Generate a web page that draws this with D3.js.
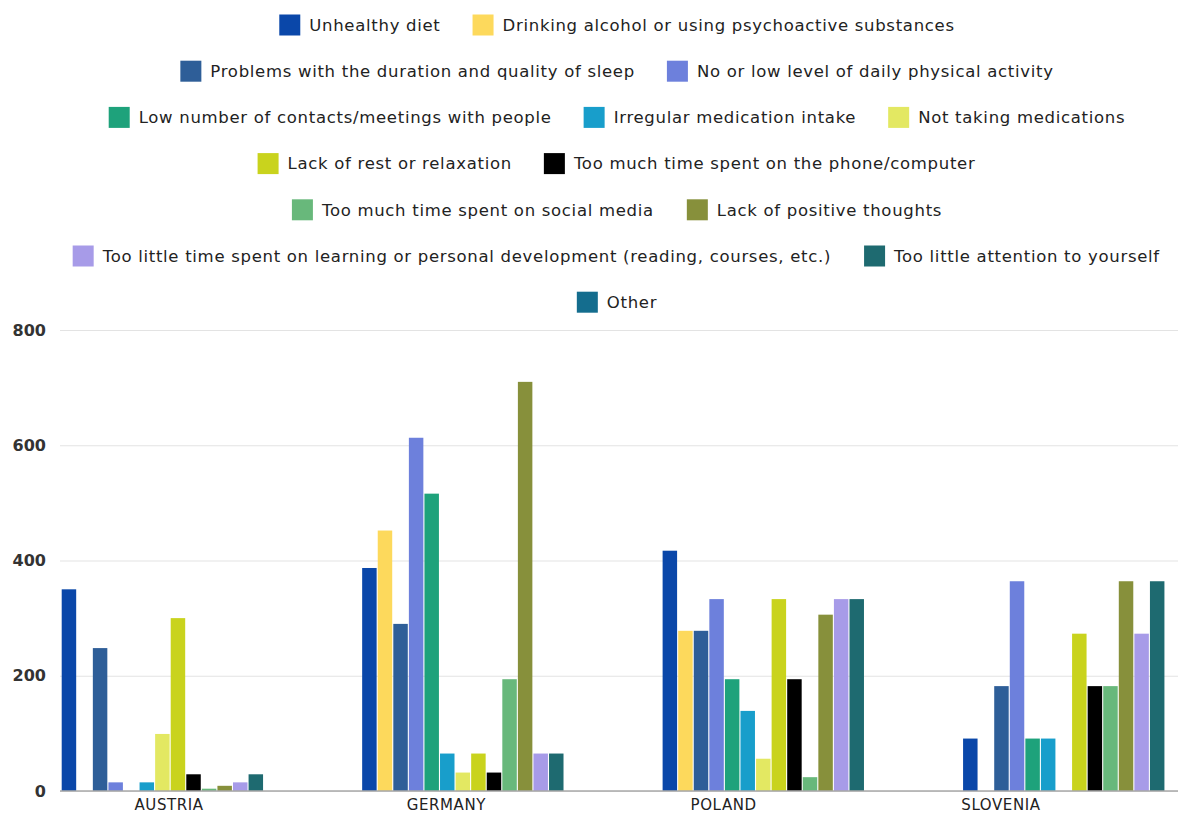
<!DOCTYPE html>
<html>
<head>
<meta charset="utf-8">
<script src="https://cdn.jsdelivr.net/npm/d3@7/dist/d3.min.js"></script>
<style>
  html, body { margin: 0; padding: 0; background: #fff; }
  svg { display: block; font-family: "DejaVu Sans", "Noto Sans", sans-serif; }
</style>
</head>
<body>
<svg id="chart" width="1180" height="814"></svg>
<script>
// Countries on the x axis
const countries = ["AUSTRIA", "GERMANY", "POLAND", "SLOVENIA"];

// Factor names (one series each)
const seriesNames = [
  "Unhealthy diet",
  "Drinking alcohol or using psychoactive substances",
  "Problems with the duration and quality of sleep",
  "No or low level of daily physical activity",
  "Low number of contacts/meetings with people",
  "Irregular medication intake",
  "Not taking medications",
  "Lack of rest or relaxation",
  "Too much time spent on the phone/computer",
  "Too much time spent on social media",
  "Lack of positive thoughts",
  "Too little time spent on learning or personal development (reading, courses, etc.)",
  "Too little attention to yourself",
  "Other"
];

const seriesColors = [
  "#0a47a9", "#fdd95c", "#2e5e98", "#6d80dc", "#1ea27b", "#189ecb", "#e3e862",
  "#c9d31d", "#000000", "#68b87b", "#87903b", "#a79be8", "#1e6a70", "#146d8e"
];

// Values per country, in series order
const austria  = [350, 0, 248, 15, 0, 15, 99, 300, 29, 4, 9, 15, 29, 0];
const germany  = [387, 452, 290, 613, 516, 65, 32, 65, 32, 194, 710, 65, 65, 0];
const poland   = [417, 278, 278, 333, 194, 139, 56, 333, 194, 24, 306, 333, 333, 0];
const slovenia = [91, 0, 182, 364, 91, 91, 0, 273, 182, 182, 364, 273, 364, 0];
const valuesByCountry = [austria, germany, poland, slovenia];

const yTicks = [0, 200, 400, 600, 800];

// Legend rows (indices into seriesNames)
const legendRows = [[0, 1], [2, 3], [4, 5, 6], [7, 8], [9, 10], [11, 12], [13]];

const svg = d3.select("#chart");
const plotLeft = 60, plotRight = 1178, plotTop = 330, plotBottom = 791;

const y = d3.scaleLinear().domain([0, 800]).range([plotBottom, plotTop]);

// Group placement for bars
const x0 = d3.scaleBand().domain(countries).range([61.7, 1180]).paddingInner(0.278).paddingOuter(0);
const x1 = d3.scaleBand().domain(d3.range(seriesNames.length)).range([0, x0.bandwidth()]).paddingInner(0.07);
// Category label axis
const xLabel = d3.scaleBand().domain(countries).range([30.4, 1139.6]);

// Gridlines + y labels
const yAxis = d3.axisLeft(y).tickValues(yTicks).tickSize(-(plotRight - plotLeft)).tickPadding(14);
const gy = svg.append("g").attr("transform", `translate(${plotLeft},0)`).call(yAxis);
gy.select(".domain").remove();
gy.selectAll(".tick line").attr("stroke", "#e3e3e3").attr("stroke-width", 1.2);
gy.selectAll(".tick text")
  .attr("fill", "#333")
  .attr("font-size", 16)
  .attr("font-weight", 600)
  .attr("font-family", "'DejaVu Sans', sans-serif");

// Bars
const groups = svg.append("g").selectAll("g")
  .data(countries)
  .join("g")
  .attr("transform", d => `translate(${x0(d)},0)`);

groups.selectAll("rect")
  .data((c, ci) => valuesByCountry[ci].map((v, si) => ({ v, si })))
  .join("rect")
  .filter(d => d.v > 0)
  .attr("x", d => x1(d.si))
  .attr("width", x1.bandwidth())
  .attr("y", d => y(d.v))
  .attr("height", d => y(0) - y(d.v))
  .attr("fill", d => seriesColors[d.si]);

// Baseline
svg.append("line")
  .attr("x1", plotLeft).attr("x2", plotRight)
  .attr("y1", y(0)).attr("y2", y(0))
  .attr("stroke", "#a8a8a8").attr("stroke-width", 1.5);

// Category labels
const xAxis = d3.axisBottom(xLabel).tickSize(0).tickPadding(8);
const gx = svg.append("g").attr("transform", `translate(0,${plotBottom})`).call(xAxis);
gx.select(".domain").remove();
gx.selectAll(".tick text")
  .attr("fill", "#222")
  .attr("font-size", 15)
  .attr("letter-spacing", 0.6)
  .attr("font-family", "'DejaVu Sans', sans-serif");

// Legend
const legendCenter = 617, rowY0 = 25, rowStep = 46.2;
const sw = 21, swGap = 9, itemGap = 32;
const legend = svg.append("g");
legendRows.forEach((row, ri) => {
  const g = legend.append("g");
  let cx = 0;
  row.forEach(si => {
    const item = g.append("g").attr("transform", `translate(${cx},0)`);
    item.append("rect")
      .attr("x", 0).attr("y", -sw / 2).attr("width", sw).attr("height", sw)
      .attr("fill", seriesColors[si]);
    const t = item.append("text")
      .attr("x", sw + swGap).attr("y", 0)
      .attr("dy", "0.35em")
      .attr("font-size", 16.5)
      .attr("letter-spacing", 0.7)
      .attr("fill", "#222")
      .text(seriesNames[si]);
    const bb = t.node().getBBox();
    cx += sw + swGap + bb.width + itemGap;
  });
  const w = cx - itemGap;
  g.attr("transform", `translate(${legendCenter - w / 2},${rowY0 + ri * rowStep})`);
});
</script>
</body>
</html>
